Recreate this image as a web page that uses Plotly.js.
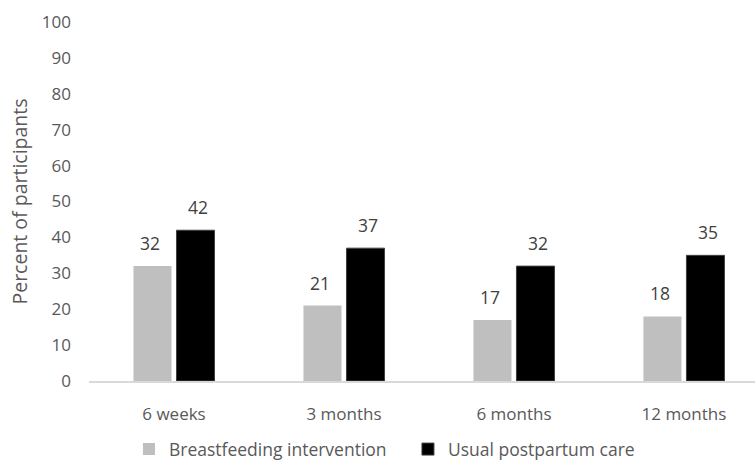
<!DOCTYPE html>
<html>
<head>
<meta charset="utf-8">
<script src="https://cdn.plot.ly/plotly-3.0.1.min.js"></script>
<style>html,body{margin:0;padding:0;background:#fff;}#chart{width:755px;height:461px;}</style>
</head>
<body>
<div id="chart"></div>
<script>
const categories = ["6 weeks", "3 months", "6 months", "12 months"];
const seriesNames = ["Breastfeeding intervention", "Usual postpartum care"];
const intervention = [32, 21, 17, 18];
const usualCare = [42, 37, 32, 35];
const yTicks = [0, 10, 20, 30, 40, 50, 60, 70, 80, 90, 100];

const FONT = "Open Sans, sans-serif";
const traces = [
  {type: "bar", name: seriesNames[0], x: categories, y: intervention,
   marker: {color: "#bfbfbf"}, hoverinfo: "none"},
  {type: "bar", name: seriesNames[1], x: categories, y: usualCare,
   marker: {color: "#000000", line: {color: "#404040", width: 1}}, hoverinfo: "none"}
];

const annotations = [];
[intervention, usualCare].forEach((vals, s) => {
  vals.forEach((v, i) => {
    annotations.push({x: categories[i], y: v, xref: "x", yref: "y", text: String(v),
      showarrow: false, yanchor: "bottom", xshift: s === 0 ? -24 : 24, yshift: 9,
      font: {family: FONT, size: 17.5, color: "#404040"}});
  });
});

const layout = {
  width: 755, height: 461,
  margin: {l: 89, r: 0, t: 22, b: 80, autoexpand: false},
  paper_bgcolor: "#fff", plot_bgcolor: "#fff",
  barmode: "group", bargap: 0.494, bargroupgap: 0.116,
  font: {family: FONT, size: 17, color: "#595959"},
  xaxis: {range: [-0.5, 3.418], showgrid: false, zeroline: false,
    showline: true, linecolor: "#d9d9d9", linewidth: 1.5, ticks: "",
    ticklabelstandoff: 17, tickfont: {family: FONT, size: 17, color: "#595959"}},
  yaxis: {range: [0, 100], tickvals: yTicks, showgrid: false, zeroline: false,
    showline: false, ticks: "", ticklabelstandoff: 17,
    tickfont: {family: FONT, size: 17, color: "#595959"},
    title: {text: "Percent of participants", standoff: 9,
      font: {family: FONT, size: 19.5, color: "#595959"}}},
  showlegend: true,
  legend: {orientation: "h", x: 0.06, xanchor: "left", y: -0.19, yanchor: "middle",
    font: {family: FONT, size: 17.5, color: "#595959"}, itemwidth: 30,
    entrywidth: 234, traceorder: "normal"},
  annotations: annotations
};

Plotly.newPlot("chart", traces, layout, {displayModeBar: false, staticPlot: true});
</script>
</body>
</html>
